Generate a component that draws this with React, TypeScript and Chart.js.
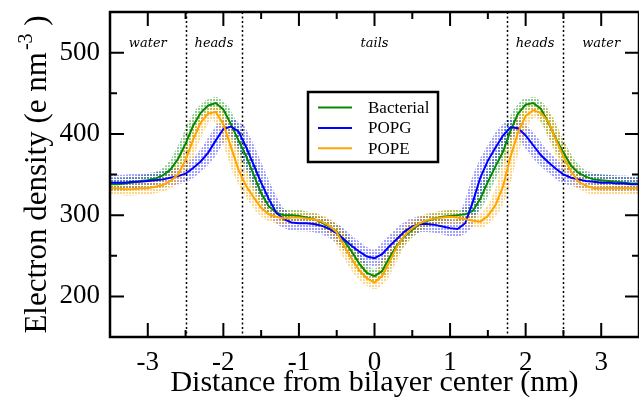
import React, { useEffect, useRef } from 'react';
import { Chart, registerables } from 'chart.js';

Chart.register(...registerables);

// ---- data (nm, e nm^-3) ----
const DISTANCE = [
  -3.5, -3.4, -3.3, -3.2, -3.1, -3.0, -2.9, -2.8, -2.7, -2.6, -2.5, -2.4, -2.3, -2.2, -2.1, -2.0,
  -1.9, -1.8, -1.7, -1.6, -1.5, -1.4, -1.3, -1.2, -1.1, -1.0, -0.9, -0.8, -0.7, -0.6, -0.5, -0.4,
  -0.3, -0.2, -0.1, 0.0, 0.1, 0.2, 0.3, 0.4, 0.5, 0.6, 0.7, 0.8, 0.9, 1.0, 1.1, 1.2, 1.3, 1.4,
  1.5, 1.6, 1.7, 1.8, 1.9, 2.0, 2.1, 2.2, 2.3, 2.4, 2.5, 2.6, 2.7, 2.8, 2.9, 3.0, 3.1, 3.2, 3.3,
  3.4, 3.5,
];
const BACTERIAL = [
  338, 338, 339, 340, 342, 343, 345, 349, 356, 369, 388, 410, 426, 435, 438, 430,
  412, 392, 373, 350, 327, 311, 303, 300, 300, 299, 297, 295, 291, 286, 280, 268,
  255, 240, 229, 225, 231, 248, 263, 274, 282, 289, 293, 296, 298, 299, 300, 301, 305, 320,
  341, 360, 378, 404, 425, 436, 438, 431, 414, 394, 377, 361, 352, 347, 344, 343, 342, 341, 340,
  339, 339,
];
const POPG = [
  340, 340, 340, 341, 341, 342, 343, 344, 346, 348, 351, 358, 366, 377, 392, 406,
  409, 403, 384, 362, 340, 320, 303, 295, 291, 290, 290, 289, 287, 283, 278, 270,
  262, 255, 249, 247, 252, 262, 271, 280, 286, 289, 289, 288, 286, 284, 283, 290, 316, 346,
  367, 383, 398, 408, 407, 398, 386, 374, 365, 357, 350, 346, 344, 342, 341, 340, 340, 339, 339,
  338, 338,
];
const POPE = [
  333, 333, 332, 332, 333, 333, 335, 337, 342, 350, 368, 393, 414, 425, 427, 412,
  384, 356, 336, 322, 309, 301, 298, 296, 297, 297, 296, 295, 292, 287, 279, 262,
  246, 232, 222, 217, 225, 243, 262, 275, 284, 290, 294, 296, 297, 298, 297, 295, 293, 292,
  299, 312, 335, 372, 402, 422, 429, 426, 415, 393, 372, 354, 341, 336, 333, 333, 333, 333, 333,
  333, 333,
];

const SERIES_NAMES = ['Bacterial', 'POPG', 'POPE'];
const X_TICK_LABELS = [-3, -2, -1, 0, 1, 2, 3];
const X_MINOR_TICKS = [-2.5, -1.5, -0.5, 0.5, 1.5, 2.5];
const Y_TICK_LABELS = [200, 300, 400, 500];
const Y_MINOR_TICKS = [250, 350, 450];
const REGION_BOUNDARIES = [-2.5, -1.75, 1.75, 2.5];
const REGION_LABELS = ['water', 'heads', 'tails', 'heads', 'water'];
const REGION_CENTERS = [-3.0, -2.125, 0, 2.125, 3.0];

// ---- style ----
const LINE_COLORS = ['#008b00', '#0000ff', '#ffa500'];
const CLOUD_COLORS = ['rgba(0,139,0,0.42)', 'rgba(0,0,255,0.36)', 'rgba(255,165,0,0.47)'];
const CLOUD_WIDTHS = [12, 16, 13];
const SERIF = '"Liberation Serif", "Times New Roman", serif';

const near = (a: number, b: number) => Math.abs(a - b) < 1e-6;

const decorPlugin = {
  id: 'decor',
  beforeDatasetsDraw(chart: any) {
    const { ctx, chartArea: a, scales } = chart;
    const x = scales.x;
    ctx.save();
    ctx.strokeStyle = '#000';
    ctx.lineWidth = 1.5;
    ctx.setLineDash([2, 2.5]);
    for (const b of REGION_BOUNDARIES) {
      const px = Math.round(x.getPixelForValue(b)) + 0.5;
      ctx.beginPath();
      ctx.moveTo(px, a.top);
      ctx.lineTo(px, a.bottom);
      ctx.stroke();
    }
    ctx.setLineDash([]);
    ctx.fillStyle = '#000';
    ctx.font = 'italic 13px "DejaVu Serif", serif';
    ctx.textAlign = 'center';
    ctx.textBaseline = 'alphabetic';
    REGION_LABELS.forEach((t, i) => {
      ctx.fillText(t, x.getPixelForValue(REGION_CENTERS[i]), a.top + 34.5);
    });
    ctx.restore();
  },
  afterDraw(chart: any) {
    const { ctx, chartArea: a, scales } = chart;
    const x = scales.x;
    const y = scales.y;
    ctx.save();
    // ticks inward, all four sides
    ctx.strokeStyle = '#000';
    ctx.lineWidth = 2;
    ctx.lineCap = 'butt';
    const xt = [...X_TICK_LABELS.map((v) => [v, 14]), ...X_MINOR_TICKS.map((v) => [v, 7])];
    for (const [v, len] of xt) {
      const px = x.getPixelForValue(v);
      ctx.beginPath();
      ctx.moveTo(px, a.bottom);
      ctx.lineTo(px, a.bottom - len);
      ctx.moveTo(px, a.top);
      ctx.lineTo(px, a.top + len);
      ctx.stroke();
    }
    const yt = [...Y_TICK_LABELS.map((v) => [v, 14]), ...Y_MINOR_TICKS.map((v) => [v, 7])];
    for (const [v, len] of yt) {
      const py = y.getPixelForValue(v);
      ctx.beginPath();
      ctx.moveTo(a.left, py);
      ctx.lineTo(a.left + len, py);
      ctx.moveTo(a.right, py);
      ctx.lineTo(a.right - len, py);
      ctx.stroke();
    }
    // frame
    ctx.lineWidth = 2.5;
    ctx.strokeRect(a.left, a.top, a.right - a.left, a.bottom - a.top);

    // legend box
    const lx = 308, ly = 92, lw = 130, lh = 70;
    ctx.fillStyle = '#fff';
    ctx.fillRect(lx, ly, lw, lh);
    ctx.lineWidth = 2.5;
    ctx.strokeStyle = '#000';
    ctx.strokeRect(lx, ly, lw, lh);
    ctx.font = `17px ${SERIF}`;
    ctx.textAlign = 'left';
    ctx.textBaseline = 'middle';
    SERIES_NAMES.forEach((name, i) => {
      const yy = ly + 15.5 + i * 20.4;
      ctx.strokeStyle = LINE_COLORS[i];
      ctx.lineWidth = 2;
      ctx.beginPath();
      ctx.moveTo(lx + 10, yy);
      ctx.lineTo(lx + 44, yy);
      ctx.stroke();
      ctx.fillStyle = '#000';
      ctx.fillText(name, lx + 60, yy + 1);
    });

    // x title
    ctx.fillStyle = '#000';
    ctx.font = `30px ${SERIF}`;
    ctx.textAlign = 'center';
    ctx.textBaseline = 'alphabetic';
    ctx.fillText('Distance from bilayer center (nm)', (a.left + a.right) / 2, 391);

    // y title with superscript
    const main = 'Electron density (e nm';
    const sup = '-3';
    const tail = ' )';
    ctx.font = `31px ${SERIF}`;
    const wMain = ctx.measureText(main).width;
    const wTail = ctx.measureText(tail).width;
    ctx.font = `20px ${SERIF}`;
    const wSup = ctx.measureText(sup).width;
    const total = wMain + 2 + wSup + wTail;
    ctx.translate(46, (a.top + a.bottom) / 2);
    ctx.rotate(-Math.PI / 2);
    ctx.textAlign = 'left';
    let cx = -total / 2;
    ctx.font = `31px ${SERIF}`;
    ctx.fillText(main, cx, 0);
    cx += wMain + 2;
    ctx.font = `20px ${SERIF}`;
    ctx.fillText(sup, cx, -14);
    cx += wSup;
    ctx.font = `31px ${SERIF}`;
    ctx.fillText(tail, cx, 0);
    ctx.restore();
  },
};

export default function App() {
  const ref = useRef<HTMLCanvasElement | null>(null);

  useEffect(() => {
    document.body.style.margin = '0';
    const canvas = ref.current!;
    const ctx = canvas.getContext('2d')!;

    const makePattern = (color: string) => {
      const c = document.createElement('canvas');
      c.width = 3;
      c.height = 3;
      const g = c.getContext('2d')!;
      g.fillStyle = color;
      g.fillRect(0, 0, 2, 2);
      return ctx.createPattern(c, 'repeat');
    };

    const seriesValues = [BACTERIAL, POPG, POPE];
    const points = seriesValues.map((vals) => DISTANCE.map((d, i) => ({ x: d, y: vals[i] })));

    const clouds = points.map((pts, i) => ({
      label: SERIES_NAMES[i] + ' spread',
      data: pts,
      borderColor: makePattern(CLOUD_COLORS[i]),
      borderWidth: CLOUD_WIDTHS[i],
      borderCapStyle: 'round',
      borderJoinStyle: 'round',
      pointRadius: 0,
      tension: 0,
      fill: false,
      order: 20 - i,
    }));
    const lines = points.map((pts, i) => ({
      label: SERIES_NAMES[i],
      data: pts,
      borderColor: LINE_COLORS[i],
      borderWidth: 2,
      pointRadius: 0,
      tension: 0,
      fill: false,
      order: 3 - i,
    }));

    const chart = new Chart(ctx, {
      type: 'line',
      data: { datasets: [...clouds, ...lines] as any },
      options: {
        animation: false,
        responsive: false,
        maintainAspectRatio: false,
        layout: { autoPadding: false, padding: { top: 12, left: 0, right: 0, bottom: 0 } },
        plugins: { legend: { display: false }, tooltip: { enabled: false } },
        scales: {
          x: {
            type: 'linear',
            min: -3.5,
            max: 3.5,
            grid: { display: false, drawTicks: false },
            border: { display: false },
            ticks: {
              stepSize: 0.5,
              padding: 10,
              color: '#000',
              maxRotation: 0,
              autoSkip: false,
              font: { family: SERIF, size: 27 },
              callback: (v: any) => {
                const n = Number(v);
                const hit = X_TICK_LABELS.find((t) => near(t, n));
                return hit !== undefined ? String(hit) : null;
              },
            },
            afterFit: (s: any) => {
              s.height = 63;
              s.paddingLeft = 0;
              s.paddingRight = 0;
            },
          },
          y: {
            type: 'linear',
            min: 150,
            max: 550,
            grid: { display: false, drawTicks: false },
            border: { display: false },
            ticks: {
              stepSize: 50,
              padding: 10,
              color: '#000',
              autoSkip: false,
              font: { family: SERIF, size: 27 },
              callback: (v: any) => {
                const n = Number(v);
                const hit = Y_TICK_LABELS.find((t) => near(t, n));
                return hit !== undefined ? String(hit) : null;
              },
            },
            afterFit: (s: any) => {
              s.width = 110;
              s.paddingTop = 0;
              s.paddingBottom = 0;
            },
          },
        },
      },
      plugins: [decorPlugin],
    });
    return () => chart.destroy();
  }, []);

  return (
    <div style={{ width: 639, height: 400 }}>
      <canvas ref={ref} width={639} height={400} style={{ display: 'block' }} />
    </div>
  );
}
